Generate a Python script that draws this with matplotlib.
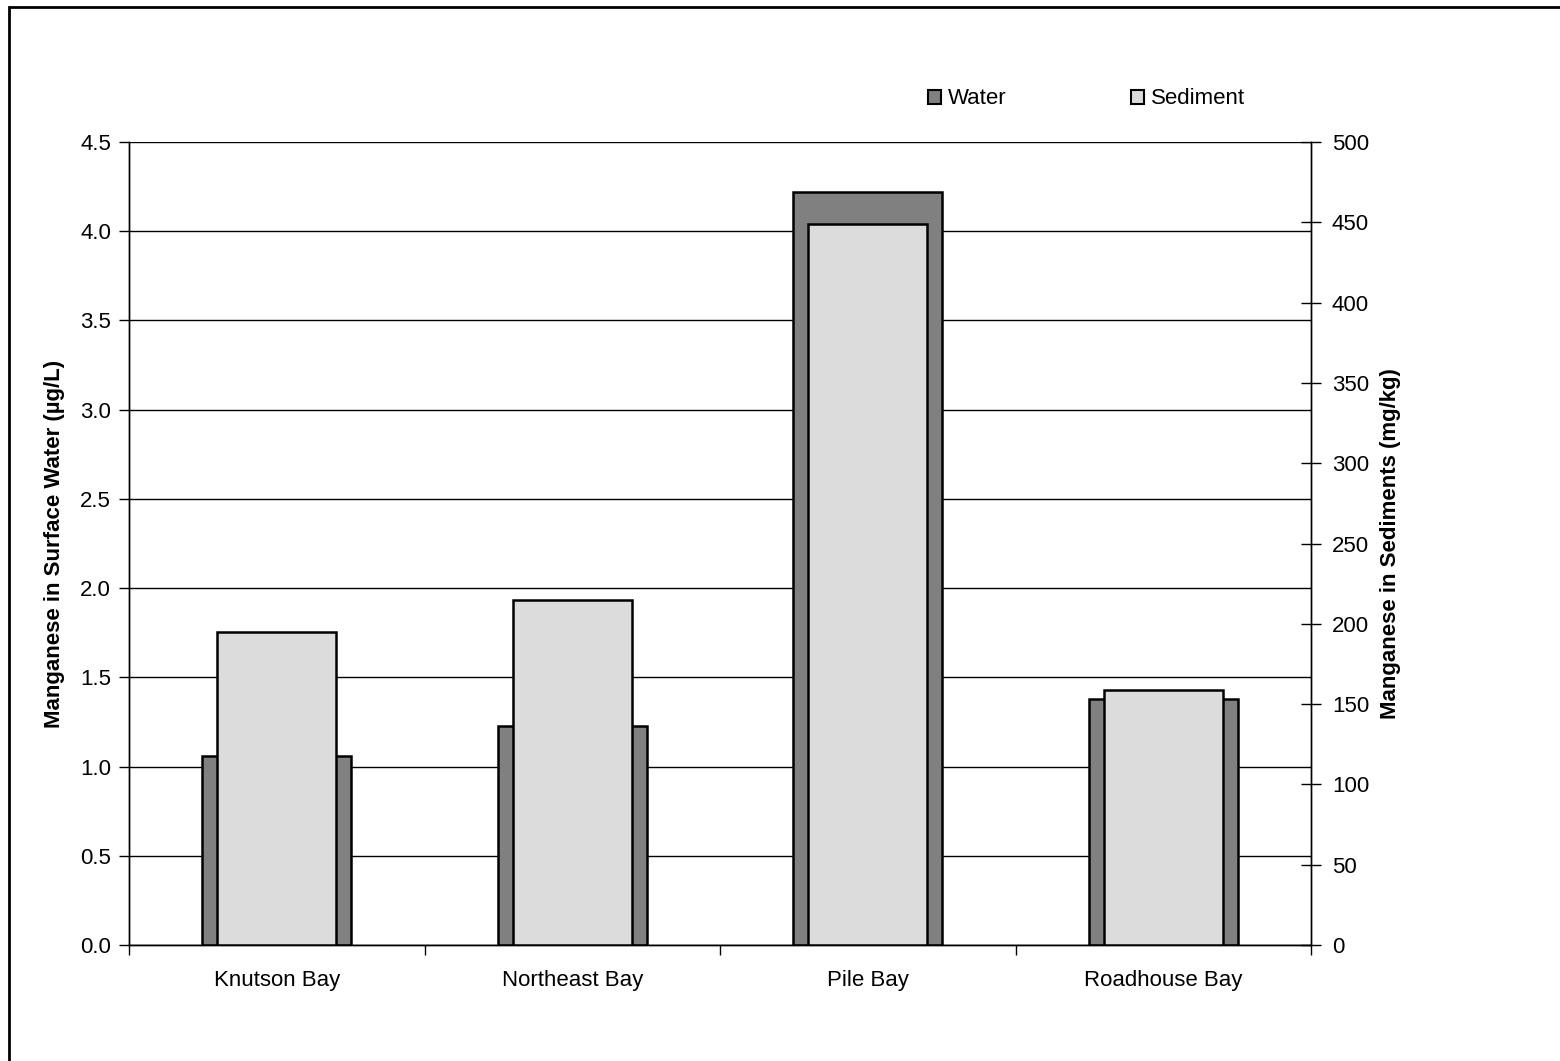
import numpy as np
import matplotlib
matplotlib.use("Agg")
import matplotlib.pyplot as plt
from matplotlib.patches import Patch, Rectangle

# --- data ---
bays = ["Knutson Bay", "Northeast Bay", "Pile Bay", "Roadhouse Bay"]
water = [1.06, 1.23, 4.22, 1.38]          # ug/L, left axis
sediment = [195, 215, 449, 159]           # mg/kg, right axis
left_ticks = [0.0, 0.5, 1.0, 1.5, 2.0, 2.5, 3.0, 3.5, 4.0, 4.5]
right_ticks = [0, 50, 100, 150, 200, 250, 300, 350, 400, 450, 500]

water_color = "#808080"
sed_color = "#DCDCDC"

plt.rcParams["font.family"] = ["Liberation Sans", "DejaVu Sans"]
plt.rcParams["font.size"] = 16

fig = plt.figure(figsize=(15.6, 10.61), dpi=100)
ax1 = fig.add_axes([129 / 1560, 1 - 945 / 1061, (1311 - 129) / 1560, (945 - 142) / 1061])
ax2 = ax1.twinx()

x = np.arange(len(bays))

# Water bars (primary axis)
ax1.bar(x, water, width=0.504, color=water_color, edgecolor="black", linewidth=1.8, zorder=3)
ax1.set_ylim(0, 4.5)
ax1.set_xlim(-0.5, len(bays) - 0.5)
ax1.set_yticks(left_ticks)
ax1.set_yticklabels([f"{t:.1f}" for t in left_ticks])
ax1.yaxis.grid(True, color="black", linewidth=1.0, zorder=0)
ax1.set_axisbelow(True)
ax1.set_xticks(x)
ax1.set_xticklabels(bays)
ax1.tick_params(axis="x", length=0, pad=18)
ax1.set_xticks(np.arange(-0.5, len(bays), 1.0), minor=True)
ax1.tick_params(axis="x", which="minor", length=7, direction="out", width=1)
ax1.tick_params(axis="y", length=7, direction="out", width=1, pad=6)
ax1.set_ylabel("Manganese in Surface Water (\u00b5g/L)", fontweight="bold", labelpad=11)

# Sediment bars (secondary axis)
ax2.bar(x, sediment, width=0.403, color=sed_color, edgecolor="black", linewidth=1.8, zorder=3)
ax2.set_ylim(0, 500)
ax2.set_yticks(right_ticks)
ax2.tick_params(axis="y", length=14, direction="inout", width=1, pad=8)
ax2.set_ylabel("Manganese in Sediments (mg/kg)", fontweight="bold", labelpad=8)

for ax in (ax1, ax2):
    for s in ax.spines.values():
        s.set_linewidth(1.0)
    ax.spines["top"].set_visible(False)

# legend
handles = [Patch(facecolor=water_color, edgecolor="black", linewidth=1.5),
           Patch(facecolor=sed_color, edgecolor="black", linewidth=1.5)]
fig.legend(handles, ["Water", "Sediment"], ncol=2, frameon=False,
           loc="center left", bbox_to_anchor=(908 / 1560, 1 - 99 / 1061),
           handlelength=0.6, handleheight=0.6, handletextpad=0.3,
           columnspacing=5.6)

# outer border
fig.patches.append(Rectangle((9 / 1560, -0.05), 1.1, 1 - 7 / 1061 + 0.05,
                             transform=fig.transFigure, fill=False,
                             edgecolor="black", linewidth=2, clip_on=False))

fig.savefig("out.png", dpi=100)
